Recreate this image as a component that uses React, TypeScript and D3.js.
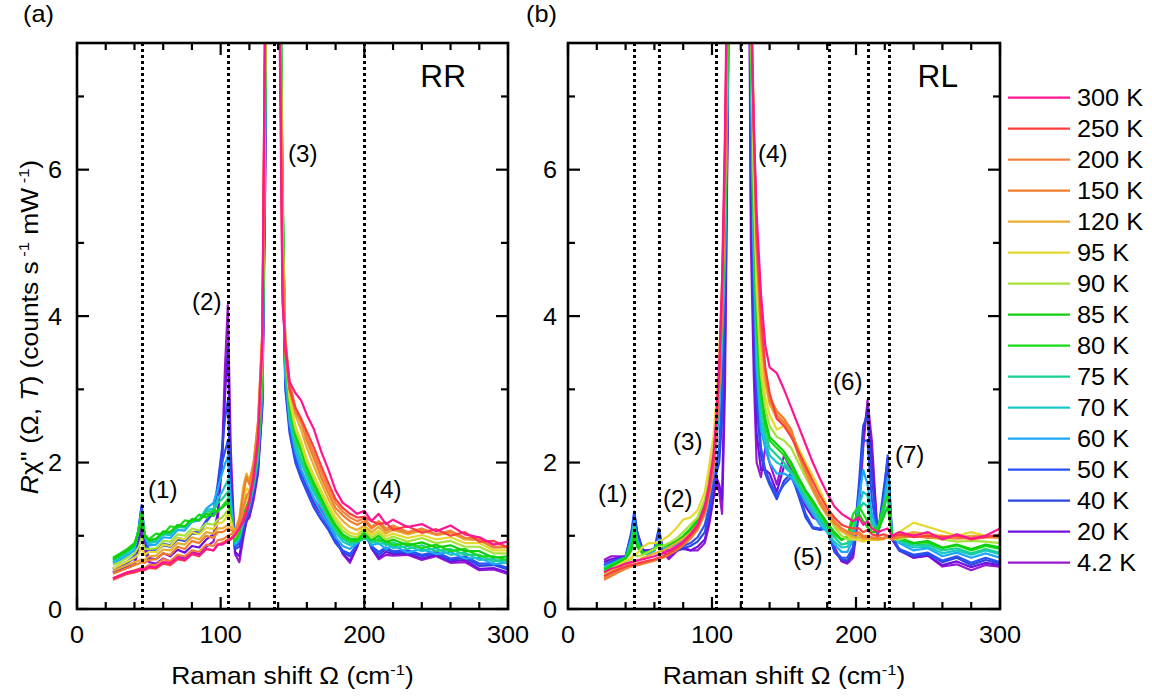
import React from "react";
import * as d3 from "d3";

const W = 1152;
const H = 697;
const FONT = "'Liberation Sans', Arial, Helvetica, sans-serif";

const temperatures = ["300 K", "250 K", "200 K", "150 K", "120 K", "95 K", "90 K", "85 K", "80 K", "75 K", "70 K", "60 K", "50 K", "40 K", "20 K", "4.2 K"];
const seriesColors = ["#ff1493", "#ff3f3f", "#f0823c", "#f07d2a", "#e8ac30", "#e6d82e", "#a6e23a", "#0fcf0f", "#17dc17", "#18d090", "#18c8c8", "#1ca8f8", "#2a50f8", "#2848e0", "#7010e0", "#9a18d0"];

// Raman shift grids (cm^-1)
const rrShift = [25, 30, 35, 40, 43, 45, 47, 50, 55, 60, 65, 70, 75, 80, 85, 90, 95, 98, 101, 103, 105, 107, 110, 113, 116, 118, 120, 123, 126, 129, 131, 133, 137, 141, 143, 145, 148, 152, 156, 160, 165, 170, 175, 180, 185, 190, 195, 200, 205, 210, 215, 220, 230, 240, 250, 260, 270, 280, 290, 300];
const rlShift = [25, 30, 35, 40, 44, 46, 48, 52, 56, 60, 63, 66, 70, 75, 80, 85, 90, 95, 98, 101, 103, 105, 107, 109, 111, 119, 127, 129, 131, 134, 137, 140, 145, 150, 155, 160, 165, 170, 175, 180, 185, 190, 194, 198, 202, 205, 208, 211, 215, 219, 222, 225, 230, 240, 250, 260, 270, 280, 290, 300];

// RR channel
const rr300K = [.42, .46, .5, .52, .54, .55, .54, .58, .57, .64, .63, .7, .67, .76, .73, .82, .8, .88, .88, .9, .92, .95, 1.0, 1.1, 1.2, 1.3, 1.45, 1.8, 2.3, 3.6, 8.5, 16, 40, 8.0, 4.2, 3.6, 3.1, 2.95, 2.85, 2.65, 2.45, 2.15, 1.9, 1.62, 1.45, 1.38, 1.3, 1.34, 1.2, 1.3, 1.16, 1.22, 1.12, 1.16, 1.06, 1.14, 1.02, 0.98, 0.88, 0.92];
const rr250K = [.4, .44, .48, .5, .52, .53, .53, .56, .55, .62, .6, .68, .66, .75, .72, .82, .8, .88, .9, .92, .95, .97, 1.02, 1.1, 1.25, 1.35, 1.5, 1.85, 2.35, 3.7, 8.3, 16, 40, 8.5, 4.4, 3.5, 3.0, 2.75, 2.6, 2.42, 2.2, 1.95, 1.72, 1.5, 1.38, 1.3, 1.25, 1.26, 1.2, 1.16, 1.18, 1.08, 1.13, 1.04, 1.09, 1.0, 1.05, 0.92, 0.93, 0.84];
const rr200K = [.42, .46, .5, .53, .55, .56, .56, .6, .6, .68, .65, .74, .72, .8, .78, .88, .86, .94, .95, .97, 1.0, 1.02, 1.05, 1.15, 1.4, 1.55, 1.6, 1.9, 2.45, 3.8, 8.0, 16, 40, 8.8, 4.6, 3.6, 3.0, 2.7, 2.55, 2.35, 2.12, 1.88, 1.65, 1.45, 1.33, 1.25, 1.2, 1.24, 1.12, 1.2, 1.1, 1.14, 1.05, 1.1, 1.02, 1.07, 0.97, 0.98, 0.85, 0.86];
const rr150K = [.48, .52, .56, .6, .62, .64, .63, .67, .68, .76, .74, .85, .82, .93, .9, 1.0, .97, 1.05, 1.05, 1.07, 1.1, 1.08, 1.05, 1.2, 1.6, 1.8, 1.7, 2.0, 2.55, 3.8, 7.8, 16, 40, 9.0, 4.8, 3.7, 3.1, 2.75, 2.55, 2.3, 2.05, 1.8, 1.58, 1.38, 1.28, 1.2, 1.15, 1.2, 1.1, 1.17, 1.07, 1.11, 1.04, 1.09, 1.02, 1.06, 0.97, 0.95, 0.84, 0.84];
const rr120K = [.52, .56, .6, .64, .66, .68, .67, .72, .73, .81, .8, .9, .88, .98, .95, 1.05, 1.03, 1.1, 1.1, 1.12, 1.15, 1.12, 1.08, 1.25, 1.7, 1.85, 1.75, 2.0, 2.55, 3.7, 7.6, 16, 40, 9.2, 5.0, 3.7, 3.0, 2.65, 2.45, 2.2, 1.95, 1.72, 1.5, 1.32, 1.2, 1.12, 1.08, 1.14, 1.05, 1.12, 1.03, 1.08, 1.02, 1.07, 1.01, 1.04, 0.95, 0.94, 0.84, 0.85];
const rr95K = [.55, .6, .65, .7, .75, .85, .74, .78, .78, .88, .86, .97, .95, 1.05, 1.02, 1.11, 1.09, 1.17, 1.18, 1.22, 1.3, 1.2, 1.0, 1.15, 1.5, 1.65, 1.6, 1.9, 2.45, 3.5, 7.4, 16, 40, 9.4, 5.2, 3.6, 2.9, 2.5, 2.3, 2.05, 1.82, 1.62, 1.42, 1.25, 1.12, 1.04, 1.02, 1.12, 1.01, 1.07, 0.99, 1.03, 0.97, 1.01, 0.95, 0.98, 0.9, 0.9, 0.8, 0.8];
const rr90K = [.6, .64, .7, .76, .85, .98, .82, .82, .83, .93, .92, 1.02, 1.0, 1.1, 1.07, 1.17, 1.15, 1.22, 1.25, 1.3, 1.35, 1.22, .98, 1.1, 1.4, 1.5, 1.55, 1.85, 2.35, 3.4, 7.2, 16, 40, 9.6, 5.4, 3.5, 2.85, 2.45, 2.25, 2.0, 1.78, 1.58, 1.38, 1.2, 1.07, 1.0, 0.98, 1.08, 0.97, 1.04, 0.95, 0.99, 0.92, 0.97, 0.9, 0.93, 0.85, 0.85, 0.76, 0.76];
const rr85K = [.68, .74, .8, .88, 1.05, 1.28, 1.0, .94, .96, 1.06, 1.05, 1.15, 1.13, 1.23, 1.21, 1.3, 1.27, 1.35, 1.38, 1.42, 1.45, 1.25, .95, 1.05, 1.3, 1.4, 1.5, 1.8, 2.25, 3.25, 7.0, 16, 40, 10, 5.7, 3.5, 2.8, 2.4, 2.2, 1.95, 1.72, 1.52, 1.32, 1.15, 1.02, 0.96, 0.95, 1.04, 0.94, 1.0, 0.91, 0.95, 0.87, 0.91, 0.84, 0.87, 0.79, 0.79, 0.7, 0.72];
const rr80K = [.7, .76, .82, .9, 1.08, 1.32, 1.02, .95, 1.03, 1.02, 1.13, 1.11, 1.21, 1.19, 1.29, 1.25, 1.35, 1.33, 1.4, 1.45, 1.5, 1.28, .93, 1.02, 1.28, 1.38, 1.48, 1.78, 2.2, 3.15, 6.8, 16, 40, 10.5, 6.0, 3.5, 2.75, 2.35, 2.15, 1.9, 1.68, 1.48, 1.28, 1.12, 0.99, 0.93, 0.93, 0.98, 0.97, 0.93, 0.94, 0.87, 0.9, 0.83, 0.88, 0.79, 0.82, 0.72, 0.72, 0.66];
const rr75K = [.66, .72, .78, .86, 1.08, 1.3, 1.0, .92, .94, 1.04, 1.03, 1.13, 1.12, 1.22, 1.21, 1.33, 1.33, 1.45, 1.5, 1.55, 1.6, 1.3, .92, 1.0, 1.25, 1.35, 1.45, 1.75, 2.15, 3.1, 6.9, 16, 40, 10, 5.8, 3.4, 2.7, 2.28, 2.05, 1.85, 1.63, 1.45, 1.26, 1.08, 0.96, 0.9, 0.92, 1.01, 0.9, 0.96, 0.87, 0.91, 0.82, 0.87, 0.79, 0.82, 0.74, 0.74, 0.65, 0.68];
const rr70K = [.64, .7, .76, .84, 1.1, 1.32, 1.0, .9, .92, 1.02, 1.01, 1.12, 1.11, 1.22, 1.22, 1.35, 1.37, 1.5, 1.6, 1.68, 1.76, 1.35, .9, .98, 1.22, 1.32, 1.42, 1.7, 2.1, 3.05, 6.8, 16, 40, 10, 5.8, 3.3, 2.6, 2.22, 2.0, 1.8, 1.58, 1.4, 1.22, 1.04, 0.92, 0.87, 0.91, 0.96, 0.94, 0.89, 0.9, 0.83, 0.86, 0.79, 0.83, 0.74, 0.77, 0.67, 0.68, 0.62];
const rr60K = [.62, .67, .73, .8, 1.1, 1.33, 1.0, .87, .88, .98, .97, 1.08, 1.07, 1.19, 1.21, 1.37, 1.45, 1.64, 1.85, 1.98, 2.08, 1.5, .88, .95, 1.2, 1.3, 1.4, 1.68, 2.05, 2.95, 6.6, 16, 40, 9.5, 5.5, 3.2, 2.55, 2.15, 1.9, 1.72, 1.5, 1.32, 1.16, 0.98, 0.86, 0.82, 0.9, 1.0, 0.87, 0.9, 0.82, 0.87, 0.77, 0.82, 0.75, 0.78, 0.69, 0.7, 0.61, 0.64];
const rr50K = [.55, .6, .65, .72, 1.1, 1.4, 1.0, .8, .8, .89, .87, .97, .95, 1.05, 1.05, 1.21, 1.32, 1.62, 2.0, 2.15, 2.3, 1.6, .85, .9, 1.15, 1.25, 1.35, 1.62, 2.0, 2.9, 6.4, 16, 40, 9.0, 5.2, 3.1, 2.45, 2.05, 1.82, 1.62, 1.4, 1.24, 1.1, 0.93, 0.8, 0.75, 0.88, 1.05, 0.86, 0.78, 0.84, 0.79, 0.8, 0.74, 0.78, 0.69, 0.72, 0.62, 0.62, 0.56];
const rr40K = [.54, .58, .63, .7, 1.12, 1.42, 1.02, .78, .78, .87, .85, .95, .93, 1.03, 1.03, 1.19, 1.32, 1.72, 2.2, 2.6, 2.85, 1.7, .82, .85, 1.1, 1.22, 1.32, 1.6, 1.95, 2.85, 6.2, 16, 40, 9.0, 5.0, 3.0, 2.4, 2.0, 1.78, 1.6, 1.38, 1.22, 1.08, 0.9, 0.78, 0.72, 0.88, 1.08, 0.84, 0.74, 0.82, 0.77, 0.78, 0.72, 0.76, 0.67, 0.7, 0.59, 0.6, 0.54];
const rr20K = [.5, .54, .58, .64, .95, 1.2, .9, .7, .68, .76, .72, .81, .77, .86, .84, .95, 1.02, 1.32, 2.0, 2.9, 3.6, 1.9, .78, .72, 1.05, 1.2, 1.3, 1.55, 1.9, 2.8, 6.0, 16, 40, 8.8, 5.0, 3.1, 2.5, 2.1, 1.85, 1.66, 1.45, 1.3, 1.15, 0.95, 0.76, 0.66, 0.85, 1.12, 0.83, 0.7, 0.78, 0.75, 0.76, 0.69, 0.74, 0.65, 0.67, 0.55, 0.56, 0.5];
const rr4K = [.5, .53, .56, .6, .85, 1.1, .8, .64, .62, .69, .65, .73, .69, .78, .75, .85, .92, 1.22, 2.1, 3.3, 4.15, 2.2, .75, .64, 1.0, 1.2, 1.25, 1.5, 1.85, 2.75, 5.8, 16, 40, 8.6, 4.9, 3.15, 2.55, 2.15, 1.9, 1.7, 1.5, 1.35, 1.2, 0.98, 0.75, 0.63, 0.85, 1.15, 0.83, 0.68, 0.74, 0.73, 0.74, 0.67, 0.72, 0.63, 0.64, 0.53, 0.54, 0.48];

// RL channel
const rl300K = [.5, .55, .58, .62, .64, .65, .66, .68, .7, .72, .74, .76, .8, .85, .92, 1.02, 1.15, 1.4, 1.7, 2.1, 2.6, 3.3, 4.5, 6.5, 9.5, 30, 8.3, 6.6, 5.4, 4.3, 3.6, 3.3, 3.22, 3.0, 2.75, 2.5, 2.25, 2.0, 1.78, 1.58, 1.4, 1.3, 1.25, 1.2, 1.25, 1.15, 1.2, 1.1, 1.05, 1.08, 1.1, 1.0, 1.05, 1.0, 1.05, 0.95, 1.02, 0.96, 1.0, 1.1];
const rl250K = [.45, .5, .54, .58, .6, .61, .62, .64, .66, .68, .7, .72, .76, .82, .9, 1.0, 1.12, 1.35, 1.62, 2.0, 2.5, 3.2, 4.3, 6.2, 9.2, 30, 8.4, 6.5, 5.1, 4.0, 3.3, 2.95, 2.6, 2.5, 2.35, 2.15, 1.95, 1.75, 1.55, 1.38, 1.25, 1.15, 1.12, 1.1, 1.1, 1.05, 1.08, 1.02, 1.0, 1.02, 1.0, 0.98, 1.02, 0.98, 1.0, 0.98, 1.0, 0.95, 0.98, 1.02];
const rl200K = [.42, .47, .52, .56, .58, .6, .6, .62, .65, .67, .69, .71, .75, .8, .88, .98, 1.1, 1.32, 1.6, 1.95, 2.45, 3.1, 4.2, 6.0, 9.0, 30, 8.5, 6.6, 5.0, 3.8, 3.2, 2.85, 2.65, 2.55, 2.4, 2.1, 1.88, 1.65, 1.45, 1.3, 1.18, 1.1, 1.06, 1.03, 1.05, 1.0, 1.0, 0.98, 0.98, 0.97, 1.0, 0.96, 1.0, 1.02, 0.98, 1.0, 0.97, 0.98, 1.0, 0.98];
const rl150K = [.4, .45, .5, .55, .58, .6, .6, .62, .64, .66, .68, .7, .74, .8, .87, .96, 1.08, 1.3, 1.55, 1.9, 2.4, 3.0, 4.1, 5.8, 8.8, 30, 8.6, 6.7, 5.1, 3.9, 3.25, 2.9, 2.7, 2.6, 2.45, 2.15, 1.9, 1.68, 1.48, 1.32, 1.2, 1.1, 1.05, 1.02, 1.02, 0.98, 0.98, 0.97, 0.96, 0.96, 0.98, 0.95, 0.98, 1.0, 0.97, 0.98, 0.96, 0.97, 0.98, 0.97];
const rl120K = [.44, .5, .56, .6, .63, .65, .66, .7, .73, .76, .78, .8, .84, .9, .96, 1.04, 1.15, 1.38, 1.65, 2.0, 2.5, 3.1, 4.2, 5.8, 8.6, 30, 8.6, 6.5, 4.9, 3.7, 3.1, 2.8, 2.6, 2.55, 2.4, 2.1, 1.85, 1.62, 1.42, 1.28, 1.15, 1.06, 1.02, 0.98, 0.98, 0.95, 0.96, 0.95, 0.95, 0.96, 0.98, 0.96, 1.0, 1.05, 1.02, 1.0, 0.98, 1.0, 1.0, 0.98];
const rl95K = [.45, .52, .6, .66, .7, .75, .76, .85, .9, .9, .92, .95, 1.0, 1.1, 1.22, 1.25, 1.35, 1.6, 1.95, 2.35, 2.85, 3.5, 4.5, 6.0, 9.0, 30, 8.5, 6.0, 4.5, 3.4, 2.9, 2.65, 2.45, 2.5, 2.4, 2.2, 2.0, 1.82, 1.62, 1.4, 1.2, 1.08, 1.0, 0.95, 0.94, 0.92, 0.94, 0.95, 0.94, 0.95, 1.0, 1.0, 1.05, 1.18, 1.12, 1.06, 1.0, 1.05, 1.0, 1.0];
const rl90K = [.48, .54, .6, .64, .68, .75, .72, .74, .78, .82, .85, .86, .9, .96, 1.05, 1.15, 1.25, 1.5, 1.8, 2.2, 2.7, 3.3, 4.3, 5.6, 8.2, 30, 8.2, 5.8, 4.3, 3.2, 2.75, 2.5, 2.35, 2.3, 2.2, 2.0, 1.8, 1.62, 1.45, 1.28, 1.12, 1.0, 0.95, 0.95, 0.98, 0.96, 0.96, 0.95, 0.95, 0.97, 1.0, 0.95, 0.95, 1.0, 0.98, 0.95, 0.92, 0.93, 0.92, 0.9];
const rl85K = [.52, .58, .63, .68, .8, 1.0, .85, .75, .78, .82, .88, .86, .88, .92, .98, 1.08, 1.2, 1.45, 1.75, 2.1, 2.6, 3.2, 4.2, 5.4, 7.9, 30, 8.0, 5.5, 4.0, 3.0, 2.6, 2.35, 2.25, 2.15, 2.0, 1.8, 1.62, 1.48, 1.32, 1.18, 1.05, 0.95, 0.98, 1.2, 1.3, 1.2, 1.12, 1.05, 1.05, 1.25, 1.4, 1.0, 0.96, 0.9, 0.93, 0.84, 0.88, 0.82, 0.88, 0.84];
const rl80K = [.54, .6, .65, .7, .85, 1.1, .9, .76, .78, .82, .9, .86, .88, .92, 1.0, 1.1, 1.22, 1.48, 1.78, 2.1, 2.55, 3.1, 4.0, 5.2, 7.8, 30, 7.9, 5.4, 3.9, 2.9, 2.5, 2.3, 2.2, 2.1, 1.95, 1.76, 1.6, 1.45, 1.3, 1.15, 1.02, 0.94, 1.0, 1.3, 1.4, 1.3, 1.2, 1.1, 1.1, 1.4, 1.55, 1.0, 0.97, 0.9, 0.91, 0.83, 0.87, 0.8, 0.86, 0.82];
const rl75K = [.55, .6, .66, .7, .9, 1.12, .9, .76, .78, .82, .92, .85, .87, .92, .98, 1.06, 1.18, 1.42, 1.7, 2.0, 2.45, 3.0, 3.9, 5.0, 7.6, 30, 7.8, 5.2, 3.7, 2.8, 2.4, 2.2, 2.1, 2.0, 1.88, 1.7, 1.55, 1.4, 1.25, 1.1, 0.98, 0.88, 0.9, 1.1, 1.35, 1.45, 1.4, 1.15, 1.08, 1.3, 1.6, 1.0, 0.94, 0.87, 0.88, 0.8, 0.83, 0.76, 0.82, 0.77];
const rl70K = [.56, .6, .66, .7, .92, 1.15, .92, .75, .77, .8, .92, .84, .86, .9, .96, 1.04, 1.15, 1.38, 1.65, 1.95, 2.4, 2.9, 3.8, 4.9, 7.4, 30, 7.6, 5.0, 3.5, 2.6, 2.3, 2.1, 2.0, 1.95, 1.85, 1.68, 1.5, 1.35, 1.2, 1.05, 0.92, 0.84, 0.85, 1.0, 1.4, 1.6, 1.55, 1.2, 1.05, 1.35, 1.7, 1.0, 0.92, 0.84, 0.85, 0.76, 0.8, 0.74, 0.8, 0.75];
const rl60K = [.58, .62, .66, .7, .95, 1.2, .95, .75, .76, .8, .95, .84, .84, .88, .94, 1.0, 1.1, 1.3, 1.55, 1.85, 2.25, 2.7, 3.6, 4.8, 7.3, 30, 7.4, 4.8, 3.3, 2.45, 2.2, 2.0, 1.85, 1.85, 1.8, 1.65, 1.45, 1.3, 1.15, 1.05, 0.88, 0.78, 0.78, 0.95, 1.5, 1.9, 1.7, 1.3, 1.05, 1.4, 1.8, 1.0, 0.9, 0.8, 0.83, 0.72, 0.77, 0.7, 0.76, 0.7];
const rl50K = [.6, .64, .68, .72, 1.0, 1.3, 1.0, .76, .76, .8, 1.05, .82, .8, .82, .86, .9, .98, 1.15, 1.4, 1.75, 1.95, 2.2, 3.0, 4.6, 7.1, 30, 6.8, 4.4, 3.0, 2.2, 1.9, 1.75, 1.55, 1.7, 1.8, 1.6, 1.3, 1.12, 1.1, 1.15, 0.8, 0.7, 0.7, 0.85, 1.6, 2.3, 2.3, 1.5, 1.0, 1.5, 2.1, 1.0, 0.82, 0.74, 0.77, 0.66, 0.72, 0.63, 0.7, 0.64];
const rl40K = [.6, .65, .68, .72, 1.05, 1.33, 1.05, .78, .78, .82, 1.1, .82, .78, .8, .83, .86, .92, 1.05, 1.3, 1.65, 1.85, 2.0, 2.6, 4.3, 7.0, 30, 6.2, 4.0, 2.8, 2.1, 1.85, 1.7, 1.5, 1.75, 1.85, 1.55, 1.25, 1.1, 1.08, 1.1, 0.78, 0.68, 0.66, 0.8, 1.7, 2.5, 2.65, 1.8, 1.0, 1.6, 2.05, 1.0, 0.8, 0.72, 0.75, 0.64, 0.7, 0.6, 0.67, 0.62];
const rl20K = [.64, .68, .7, .72, 1.0, 1.3, 1.05, .8, .8, .82, 1.02, .78, .72, .8, .82, .8, .85, .95, 1.2, 1.55, 1.8, 1.7, 1.5, 3.5, 7.0, 30, 5.6, 3.6, 2.4, 1.9, 1.9, 1.85, 1.6, 1.95, 1.9, 1.65, 1.4, 1.25, 1.2, 1.1, 0.8, 0.66, 0.64, 0.75, 1.5, 2.4, 2.75, 2.1, 1.0, 1.4, 1.85, 0.95, 0.8, 0.7, 0.73, 0.6, 0.65, 0.57, 0.63, 0.6];
const rl4K = [.67, .72, .72, .72, .95, 1.25, 1.05, .8, .8, .82, 1.0, .78, .68, .78, .85, .8, .8, .9, 1.15, 1.5, 1.75, 1.6, 1.3, 3.0, 6.8, 30, 5.0, 3.2, 2.0, 1.8, 2.2, 2.0, 1.7, 2.1, 1.9, 1.7, 1.45, 1.3, 1.25, 1.15, 0.85, 0.65, 0.62, 0.7, 1.3, 2.2, 2.85, 2.3, 1.0, 1.4, 1.9, 0.95, 0.82, 0.7, 0.73, 0.58, 0.61, 0.53, 0.6, 0.58];

const rrIntensity = [rr300K, rr250K, rr200K, rr150K, rr120K, rr95K, rr90K, rr85K, rr80K, rr75K, rr70K, rr60K, rr50K, rr40K, rr20K, rr4K];
const rlIntensity = [rl300K, rl250K, rl200K, rl150K, rl120K, rl95K, rl90K, rl85K, rl80K, rl75K, rl70K, rl60K, rl50K, rl40K, rl20K, rl4K];

// phonon mode markers
const rrModes = [45, 105, 137, 200];
const rlModes = [46, 63, 103, 120, 181, 208, 223];

const rrLabels = ["(1)", "(2)", "(3)", "(4)"];
const rrLabelX = [49.4, 80, 146.9, 205.3];
const rrLabelY = [1.52, 4.08, 6.1, 1.52];
const rlLabels = ["(1)", "(2)", "(3)", "(4)", "(5)", "(6)", "(7)"];
const rlLabelX = [20.8, 66, 72.9, 131.9, 156.3, 184, 227];
const rlLabelY = [1.46, 1.39, 2.17, 6.1, 0.6, 2.99, 2.0];

const xTicksMajor = [0, 100, 200, 300];
const xTicksMinor = [20, 40, 60, 80, 120, 140, 160, 180, 220, 240, 260, 280];
const yTicksMajor = [0, 2, 4, 6];
const yTicksMinor = [1, 3, 5, 7];

const X_DOMAIN = [0, 300];
const Y_DOMAIN = [0, 7.73];

function Txt({ x, y, size, anchor = "start", sx = 1.1, rotate = 0, children }: any) {
  return (
    <text
      transform={`translate(${x},${y}) rotate(${rotate}) scale(${sx},1)`}
      fontSize={size}
      textAnchor={anchor}
      fontFamily={FONT}
      fill="#000"
    >
      {children}
    </text>
  );
}

function Panel({ id, left, right, top, bottom, shift, intensity, modes, labels, lx, ly, pol, tickLabelEnd }: any) {
  const x = d3.scaleLinear().domain(X_DOMAIN).range([left, right]);
  const y = d3.scaleLinear().domain(Y_DOMAIN).range([bottom, top]);
  const line = d3
    .line<number>()
    .x((_, i) => x(shift[i]))
    .y((d) => y(d));
  const order = intensity.map((_: any, i: number) => i).reverse();
  const MAJ = 12;
  const MIN = 7;
  const tickStroke = 2.2;
  return (
    <g>
      <defs>
        <clipPath id={id}>
          <rect x={left} y={top} width={right - left} height={bottom - top} />
        </clipPath>
      </defs>
      <g clipPath={`url(#${id})`}>
        {order.map((i: number) => (
          <path key={i} d={line(intensity[i]) || ""} fill="none" stroke={seriesColors[i]} strokeWidth={2.2} strokeLinejoin="round" />
        ))}
        {modes.map((m: number, i: number) => (
          <line key={"m" + i} x1={Math.round(x(m)) + 0.5} x2={Math.round(x(m)) + 0.5} y1={top} y2={bottom} stroke="#000" strokeWidth={3} strokeDasharray="3 3" />
        ))}
      </g>
      {/* ticks */}
      {xTicksMajor.map((t) => (
        <g key={"xM" + t}>
          <line x1={x(t)} x2={x(t)} y1={bottom} y2={bottom - MAJ} stroke="#000" strokeWidth={tickStroke} />
          <line x1={x(t)} x2={x(t)} y1={top} y2={top + MAJ} stroke="#000" strokeWidth={tickStroke} />
        </g>
      ))}
      {xTicksMinor.map((t) => (
        <g key={"xm" + t}>
          <line x1={x(t)} x2={x(t)} y1={bottom} y2={bottom - MIN} stroke="#000" strokeWidth={tickStroke} />
          <line x1={x(t)} x2={x(t)} y1={top} y2={top + MIN} stroke="#000" strokeWidth={tickStroke} />
        </g>
      ))}
      {yTicksMajor.map((t) => (
        <g key={"yM" + t}>
          <line x1={left} x2={left + MAJ} y1={y(t)} y2={y(t)} stroke="#000" strokeWidth={tickStroke} />
          <line x1={right} x2={right - MAJ} y1={y(t)} y2={y(t)} stroke="#000" strokeWidth={tickStroke} />
        </g>
      ))}
      {yTicksMinor.map((t) => (
        <g key={"ym" + t}>
          <line x1={left} x2={left + MIN} y1={y(t)} y2={y(t)} stroke="#000" strokeWidth={tickStroke} />
          <line x1={right} x2={right - MIN} y1={y(t)} y2={y(t)} stroke="#000" strokeWidth={tickStroke} />
        </g>
      ))}
      <rect x={left} y={top} width={right - left} height={bottom - top} fill="none" stroke="#000" strokeWidth={2.6} />
      {/* tick labels */}
      {xTicksMajor.map((t) => (
        <Txt key={"xl" + t} x={x(t)} y={643} size={23} anchor="middle">
          {String(t)}
        </Txt>
      ))}
      {yTicksMajor.map((t) => (
        <Txt key={"yl" + t} x={tickLabelEnd} y={y(t) + 8.5} size={23} anchor="end">
          {String(t)}
        </Txt>
      ))}
      {/* mode labels */}
      {labels.map((s: string, i: number) => (
        <Txt key={"lab" + i} x={x(lx[i])} y={y(ly[i])} size={23} sx={1.05}>
          {s}
        </Txt>
      ))}
      {/* polarisation */}
      <Txt x={right - 42} y={87} size={31} anchor="end" sx={1.02}>
        {pol}
      </Txt>
      {/* x title */}
      <Txt x={(left + right) / 2} y={684} size={24} anchor="middle">
        Raman shift Ω (cm
        <tspan dy={-9} fontSize={15}>-1</tspan>
        <tspan dy={9}>)</tspan>
      </Txt>
    </g>
  );
}

export default function App() {
  const legendX0 = 1008;
  const legendX1 = 1070;
  const legendY0 = 97.7;
  const legendStep = 31;
  return (
    <div style={{ position: "absolute", left: 0, top: 0, width: W, height: H, background: "#fff" }}>
      <svg width={W} height={H} viewBox={`0 0 ${W} ${H}`} style={{ display: "block" }}>
        <rect x={0} y={0} width={W} height={H} fill="#fff" />
        <Panel
          id="clipA"
          left={77}
          right={508}
          top={43}
          bottom={609}
          shift={rrShift}
          intensity={rrIntensity}
          modes={rrModes}
          labels={rrLabels}
          lx={rrLabelX}
          ly={rrLabelY}
          pol="RR"
          tickLabelEnd={62}
        />
        <Panel
          id="clipB"
          left={568}
          right={1000}
          top={43}
          bottom={609}
          shift={rlShift}
          intensity={rlIntensity}
          modes={rlModes}
          labels={rlLabels}
          lx={rlLabelX}
          ly={rlLabelY}
          pol="RL"
          tickLabelEnd={557}
        />
        <Txt x={23} y={22} size={23}>
          (a)
        </Txt>
        <Txt x={526} y={22} size={23}>
          (b)
        </Txt>
        {/* y title */}
        <Txt x={38} y={327} size={24} anchor="middle" rotate={-90}>
          <tspan fontStyle="italic">R</tspan>
          <tspan>χ'' (Ω, </tspan>
          <tspan fontStyle="italic">T</tspan>
          <tspan>) (counts s</tspan>
          <tspan dy={-9} fontSize={15}> -1</tspan>
          <tspan dy={9}> mW</tspan>
          <tspan dy={-9} fontSize={15}> -1</tspan>
          <tspan dy={9}>)</tspan>
        </Txt>
        {/* legend */}
        {temperatures.map((t, i) => (
          <g key={t}>
            <line
              x1={legendX0}
              x2={legendX1}
              y1={legendY0 + i * legendStep}
              y2={legendY0 + i * legendStep}
              stroke={seriesColors[i]}
              strokeWidth={2.2}
            />
            <Txt x={1077} y={legendY0 + i * legendStep + 8.3} size={23}>
              {t}
            </Txt>
          </g>
        ))}
      </svg>
    </div>
  );
}
